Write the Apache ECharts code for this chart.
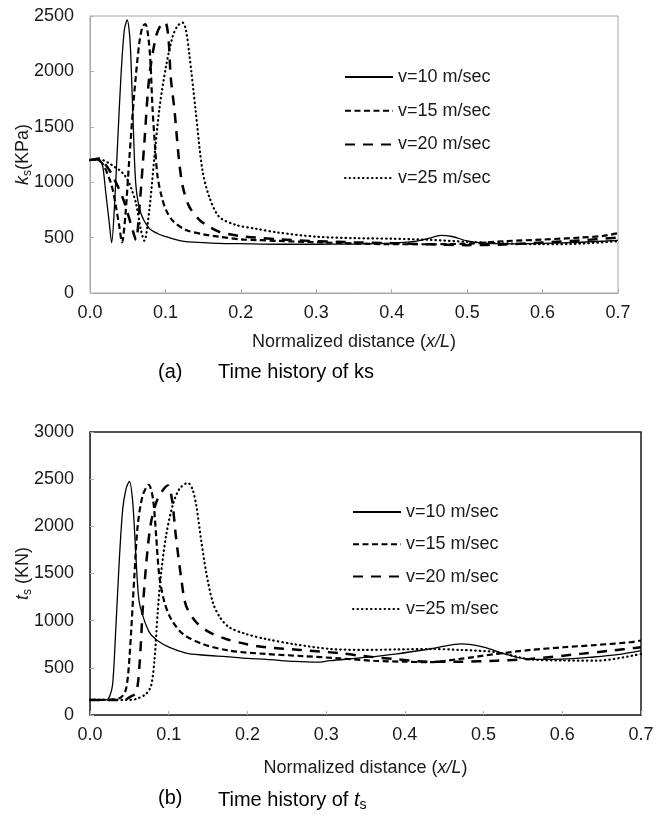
<!DOCTYPE html>
<html><head><meta charset="utf-8">
<script src="https://cdn.jsdelivr.net/npm/echarts@6/dist/echarts.min.js"></script>
<style>html,body{margin:0;padding:0;background:#fff}#c{width:668px;height:818px}</style>
</head><body><div id="c"></div>
<script>
// ---------- data ----------
const seriesNames = ['v=10 m/sec', 'v=15 m/sec', 'v=20 m/sec', 'v=25 m/sec'];

// (a) ks (KPa)
const ks10x = [0, 0.005, 0.010, 0.014, 0.017, 0.021, 0.0256, 0.0287, 0.0322, 0.0366, 0.041, 0.0455, 0.0494, 0.0525, 0.0543, 0.0574, 0.061, 0.0675, 0.0786, 0.09, 0.1007, 0.115, 0.127, 0.15, 0.171, 0.2, 0.25, 0.3, 0.35, 0.4, 0.43, 0.45, 0.465, 0.48, 0.5, 0.52, 0.55, 0.6, 0.65, 0.7];
const ks10y = [1200, 1205, 1200, 1185, 1140, 900, 629, 454, 749, 1351, 1952, 2374, 2464, 2330, 2103, 1501, 960, 719, 584, 535, 508, 480, 463, 455, 448, 445, 440, 440, 442, 450, 465, 495, 520, 510, 470, 450, 443, 448, 458, 475];

const ks15x = [0, 0.005, 0.0102, 0.015, 0.019, 0.0235, 0.0278, 0.0315, 0.0344, 0.0389, 0.0424, 0.0468, 0.052, 0.0587, 0.0653, 0.0695, 0.0733, 0.077, 0.08, 0.083, 0.0865, 0.0896, 0.095, 0.1007, 0.11, 0.127, 0.15, 0.171, 0.2, 0.22, 0.25, 0.3, 0.35, 0.4, 0.45, 0.5, 0.55, 0.6, 0.65, 0.68, 0.7];
const ks15y = [1200, 1205, 1200, 1180, 1140, 1070, 990, 890, 779, 599, 457, 689, 1200, 1802, 2253, 2400, 2428, 2330, 2100, 1652, 1300, 1050, 870, 750, 650, 569, 530, 508, 484, 478, 470, 458, 448, 440, 440, 445, 468, 482, 500, 515, 540];

const ks20x = [0, 0.008, 0.0124, 0.018, 0.0256, 0.032, 0.039, 0.045, 0.05, 0.0565, 0.061, 0.0653, 0.072, 0.0786, 0.0874, 0.094, 0.0998, 0.104, 0.107, 0.112, 0.118, 0.123, 0.1316, 0.145, 0.16, 0.171, 0.185, 0.198, 0.22, 0.25, 0.3, 0.35, 0.4, 0.45, 0.5, 0.55, 0.6, 0.65, 0.7];
const ks20y = [1200, 1210, 1215, 1180, 1110, 1030, 930, 830, 719, 569, 478, 749, 1351, 1952, 2313, 2420, 2440, 2300, 1950, 1650, 1200, 960, 780, 660, 590, 553, 530, 515, 500, 485, 468, 458, 450, 440, 432, 438, 455, 475, 500];

const ks25x = [0, 0.01, 0.0168, 0.0256, 0.032, 0.039, 0.045, 0.05, 0.055, 0.061, 0.0675, 0.072, 0.0786, 0.085, 0.0918, 0.1007, 0.1095, 0.116, 0.1228, 0.127, 0.1316, 0.14, 0.149, 0.158, 0.171, 0.193, 0.22, 0.25, 0.3, 0.35, 0.4, 0.45, 0.5, 0.55, 0.6, 0.65, 0.7];
const ks25y = [1200, 1205, 1200, 1170, 1140, 1110, 1070, 1020, 940, 809, 569, 472, 749, 1200, 1652, 2043, 2313, 2410, 2440, 2380, 2160, 1650, 1110, 870, 690, 615, 580, 545, 508, 495, 490, 480, 462, 448, 440, 445, 468];

// (b) ts (KN)
const ts10x = [0, 0.01, 0.0204, 0.025, 0.0288, 0.033, 0.0373, 0.0416, 0.0458, 0.05, 0.0543, 0.0585, 0.062, 0.067, 0.0755, 0.086, 0.101, 0.122, 0.143, 0.173, 0.2, 0.224, 0.26, 0.288, 0.305, 0.35, 0.39, 0.432, 0.472, 0.5, 0.53, 0.56, 0.6, 0.64, 0.67, 0.7];
const ts10y = [160, 160, 160, 200, 329, 948, 1654, 2185, 2398, 2477, 2257, 1654, 1230, 1053, 876, 788, 717, 657, 636, 618, 600, 590, 568, 560, 576, 610, 648, 700, 754, 720, 640, 590, 592, 615, 640, 683];

const ts15x = [0, 0.02, 0.03, 0.0394, 0.0458, 0.05, 0.0564, 0.0606, 0.067, 0.0746, 0.08, 0.084, 0.088, 0.0946, 0.103, 0.118, 0.143, 0.177, 0.224, 0.27, 0.3175, 0.36, 0.4, 0.43, 0.47, 0.517, 0.56, 0.601, 0.64, 0.686, 0.7];
const ts15y = [160, 160, 165, 187, 276, 594, 1479, 2009, 2328, 2441, 2292, 1903, 1479, 1195, 1018, 859, 753, 682, 647, 625, 600, 575, 565, 560, 595, 648, 690, 718, 740, 771, 790];

const ts20x = [0, 0.03, 0.045, 0.05, 0.0585, 0.0628, 0.067, 0.072, 0.0776, 0.086, 0.0988, 0.104, 0.109, 0.116, 0.122, 0.135, 0.152, 0.173, 0.198, 0.224, 0.267, 0.3175, 0.347, 0.39, 0.432, 0.47, 0.517, 0.559, 0.623, 0.66, 0.7];
const ts20y = [160, 160, 165, 187, 237, 520, 1124, 1654, 2044, 2292, 2434, 2292, 1903, 1443, 1160, 983, 876, 806, 753, 717, 690, 655, 625, 590, 565, 565, 576, 594, 648, 680, 718];

const ts25x = [0, 0.03, 0.0458, 0.0585, 0.071, 0.0776, 0.082, 0.086, 0.09, 0.0967, 0.105, 0.1137, 0.1243, 0.13, 0.135, 0.141, 0.1476, 0.156, 0.165, 0.177, 0.198, 0.224, 0.26, 0.305, 0.35, 0.39, 0.432, 0.47, 0.517, 0.559, 0.6, 0.644, 0.7];
const ts25y = [160, 160, 160, 170, 223, 311, 594, 1089, 1479, 1903, 2222, 2398, 2460, 2398, 2222, 1867, 1514, 1195, 1036, 929, 859, 805, 750, 700, 690, 695, 700, 690, 665, 590, 578, 576, 648];

const xTicks = [0, 0.1, 0.2, 0.3, 0.4, 0.5, 0.6, 0.7];
const ksTicks = [0, 500, 1000, 1500, 2000, 2500];
const tsTicks = [0, 500, 1000, 1500, 2000, 2500, 3000];

// ---------- chart ----------
const FONT = 'Liberation Sans, Arial, sans-serif';
const TXT = '#1a1a1a';
const FS = 18;
const zip = (xs, ys) => xs.map((x, i) => [x, ys[i]]);
const lineStyles = [
  { color: '#000', width: 1.3, type: 'solid' },
  { color: '#000', width: 2.2, type: [6, 3.5] },
  { color: '#000', width: 2.5, type: [10, 8] },
  { color: '#000', width: 2.2, type: [0.5, 4], cap: 'round' }
];
const topData = [zip(ks10x, ks10y), zip(ks15x, ks15y), zip(ks20x, ks20y), zip(ks25x, ks25y)];
const botData = [zip(ts10x, ts10y), zip(ts15x, ts15y), zip(ts20x, ts20y), zip(ts25x, ts25y)];

const rich = {
  i: { fontStyle: 'italic', fontSize: FS, fontFamily: FONT, color: TXT, lineHeight: 22 },
  s: { fontSize: 12, fontFamily: FONT, color: TXT, verticalAlign: 'bottom', lineHeight: 14 },
  n: { fontSize: FS, fontFamily: FONT, color: TXT, lineHeight: 22 }
};
const captionRich = {
  i: { fontStyle: 'italic', fontSize: 20, fontFamily: FONT, color: '#000', lineHeight: 24 },
  s: { fontSize: 14, fontFamily: FONT, color: '#000', verticalAlign: 'bottom', lineHeight: 16 },
  n: { fontSize: 20, fontFamily: FONT, color: '#000', lineHeight: 24 }
};

function xAxis(gi, color, gap) {
  return {
    gridIndex: gi, type: 'value', min: xTicks[0], max: xTicks[xTicks.length - 1], interval: 0.1,
    axisLine: { show: true, lineStyle: { color: color, width: 1 } },
    axisTick: { show: true, inside: true, length: 4, lineStyle: { color: '#b0b0b0' } },
    axisLabel: { margin: 11, fontSize: FS, fontFamily: FONT, color: TXT, formatter: v => v.toFixed(1) },
    splitLine: { show: false },
    name: '{n|Normalized distance (}{i|x/L}{n|)}', nameLocation: 'middle', nameGap: gap,
    nameMoveOverlap: false,
    nameTextStyle: { fontSize: FS, fontFamily: FONT, color: TXT, rich: rich }
  };
}
function yAxis(gi, ticks, color, name) {
  return {
    gridIndex: gi, type: 'value', min: ticks[0], max: ticks[ticks.length - 1], interval: 500,
    axisLine: { show: true, lineStyle: { color: color, width: 1 } },
    axisTick: { show: true, inside: true, length: 4, lineStyle: { color: '#b0b0b0' } },
    axisLabel: { margin: 16, fontSize: FS, fontFamily: FONT, color: TXT, formatter: v => String(v) },
    splitLine: { show: false },
    name: name, nameLocation: 'middle', nameGap: 56, nameMoveOverlap: false,
    nameTextStyle: { fontSize: FS, fontFamily: FONT, color: TXT, rich: rich }
  };
}

const series = [];
topData.forEach((d, k) => series.push({
  name: seriesNames[k], type: 'line', xAxisIndex: 0, yAxisIndex: 0, data: d,
  symbol: 'none', showSymbol: false, smooth: 0.3, itemStyle: { color: '#000' },
  lineStyle: lineStyles[k], clip: true, silent: true
}));
botData.forEach((d, k) => series.push({
  name: seriesNames[k], type: 'line', xAxisIndex: 1, yAxisIndex: 1, data: d,
  symbol: 'none', showSymbol: false, smooth: 0.3, itemStyle: { color: '#000' },
  lineStyle: lineStyles[k], clip: true, silent: true
}));

const legendText = { fontSize: FS, fontFamily: FONT, color: TXT, lineHeight: 20 };
const option = {
  animation: false,
  backgroundColor: '#fff',
  title: [
    { text: '(a)', left: 158, top: 362, padding: 0, textStyle: { fontSize: 20, fontWeight: 'normal', fontFamily: FONT, color: '#000' } },
    { text: 'Time history of ks', left: 218, top: 362, padding: 0, textStyle: { fontSize: 20, fontWeight: 'normal', fontFamily: FONT, color: '#000' } },
    { text: '(b)', left: 158, top: 788, padding: 0, textStyle: { fontSize: 20, fontWeight: 'normal', fontFamily: FONT, color: '#000' } },
    { text: '{n|Time history of }{i|t}{s|s}', left: 218, top: 788, padding: 0, textStyle: { fontSize: 20, fontWeight: 'normal', fontFamily: FONT, color: '#000', rich: captionRich } }
  ],
  grid: [
    { left: 90, top: 16, width: 528, height: 277, show: true, borderColor: '#a6a6a6', borderWidth: 1 },
    { left: 90, top: 432, width: 551, height: 283, show: true, borderColor: '#1a1a1a', borderWidth: 1.5 }
  ],
  legend: [
    { data: seriesNames, orient: 'vertical', left: 344, top: 67, itemWidth: 48, itemHeight: 14, itemGap: 13.7, selectedMode: false, padding: 0, itemStyle: { opacity: 0 }, textStyle: legendText },
    { data: seriesNames, orient: 'vertical', left: 352, top: 502, itemWidth: 48, itemHeight: 14, itemGap: 12.3, selectedMode: false, padding: 0, itemStyle: { opacity: 0 }, textStyle: legendText }
  ],
  xAxis: [xAxis(0, '#a6a6a6', 38), xAxis(1, '#444', 42)],
  yAxis: [
    yAxis(0, ksTicks, '#a6a6a6', '{i|k}{s|s}{n|(KPa)}'),
    yAxis(1, tsTicks, '#444', '{i|t}{s|s}{n| (KN)}')
  ],
  series: series
};
const chart = echarts.init(document.getElementById('c'), null, { renderer: 'canvas' });
chart.setOption(option);
</script>
</body></html>
